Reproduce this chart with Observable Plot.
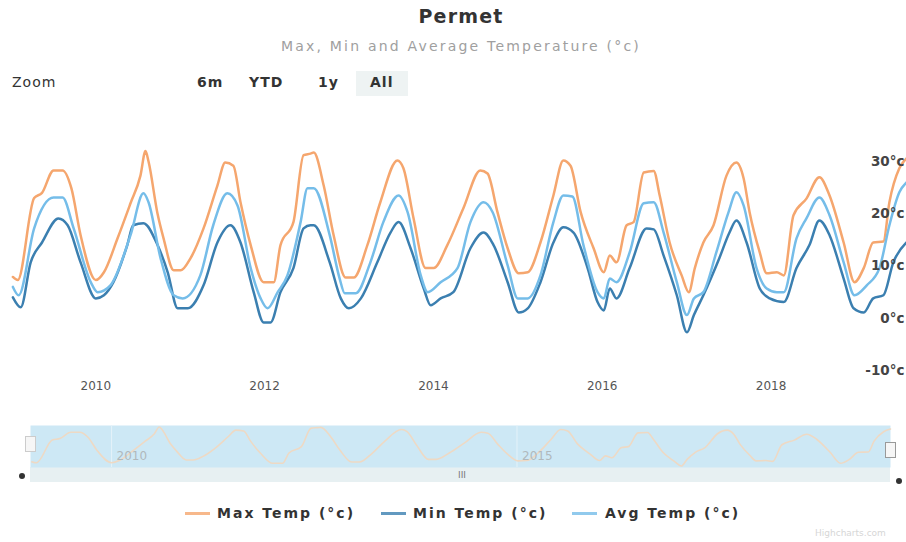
<!DOCTYPE html>
<html><head><meta charset="utf-8">
<script src="https://cdn.jsdelivr.net/npm/d3@7"></script>
<script src="https://cdn.jsdelivr.net/npm/@observablehq/plot@0.6"></script>
<style>
body{margin:0;background:#fff;font-family:"DejaVu Sans",sans-serif;}
#wrap{position:relative;width:906px;height:542px;overflow:hidden;background:#fff;}
.abs{position:absolute;white-space:nowrap;}
#title{left:0;width:906px;top:5px;text-align:center;font-size:19px;font-weight:bold;color:#333;letter-spacing:1.2px;padding-left:16px;box-sizing:border-box;}
#subtitle{left:0;width:906px;top:38px;text-align:center;font-size:14px;color:#a0a0a0;letter-spacing:2.2px;padding-left:16px;box-sizing:border-box;}
.zb{top:73px;font-size:14px;color:#333;letter-spacing:1px;line-height:18px;}
.leg{top:504px;font-size:14px;font-weight:bold;color:#333;letter-spacing:2px;line-height:18px;}
.sym{height:3px;width:25px;top:512px;}
svg{position:absolute;}
</style></head><body><div id="wrap"></div>
<script>
// Series names, colours and tick labels
const seriesNames = ["Max Temp (°c)", "Min Temp (°c)", "Avg Temp (°c)"];
const seriesColors = ["#f5a66e", "#3b7fb0", "#75bde9"];
const yTickValues = [-10, 0, 10, 20, 30];
const zoomButtons = ["Zoom", "6m", "YTD", "1y", "All"];

// Values: [date, °C]
const maxSeries = [
 ["2009-01-07",7.9],["2009-01-28",7.3],["2009-04-09",23],["2009-05-13",24],["2009-07-02",28.3],["2009-08-10",28.3],
 ["2009-09-17",24.9],["2009-10-27",15.9],["2010-01-01",7.3],["2010-02-05",8.8],["2010-04-05",15.3],["2010-05-31",22],
 ["2010-07-13",27.3],["2010-08-04",32],["2010-08-17",30],["2010-09-25",20],["2010-10-21",15.3],["2010-12-04",9.2],
 ["2011-01-04",9.2],["2011-02-15",11.5],["2011-04-12",17.2],["2011-06-11",25.4],["2011-07-15",29.8],["2011-08-19",29.2],
 ["2011-09-19",22.2],["2011-11-02",14],["2011-12-28",6.9],["2012-02-10",6.9],["2012-03-10",14],["2012-05-05",18.4],
 ["2012-06-18",31.2],["2012-07-18",31.5],["2012-08-01",31.7],["2012-09-13",25.4],["2012-10-26",15.9],["2012-12-17",7.8],
 ["2013-01-21",7.8],["2013-03-21",14],["2013-05-16",22.2],["2013-07-29",30.2],["2013-08-24",28.7],["2013-10-07",19.1],
 ["2013-11-28",9.6],["2014-01-02",9.6],["2014-03-02",14],["2014-05-10",21],["2014-07-23",28.3],["2014-08-23",27.7],
 ["2014-10-05",20.3],["2014-11-18",13.4],["2015-01-05",8.6],["2015-02-13",8.8],["2015-04-09",14.5],["2015-06-04",23.5],
 ["2015-07-17",30.2],["2015-08-17",29.2],["2015-09-30",20.3],["2015-11-25",13.4],["2016-01-08",8.8],["2016-02-03",12],
 ["2016-03-03",10.7],["2016-04-16",17.8],["2016-05-16",18.4],["2016-06-29",27.9],["2016-08-11",28.2],["2016-09-06",23.5],
 ["2016-10-19",14.5],["2016-12-10",8.2],["2017-01-10",5],["2017-02-05",9.6],["2017-03-14",14.5],["2017-04-27",17.8],
 ["2017-06-22",27.3],["2017-08-04",29.8],["2017-09-04",26.8],["2017-09-30",20.3],["2017-11-13",12.6],["2017-12-13",8.6],
 ["2018-01-26",8.8],["2018-02-25",8.2],["2018-04-08",19.7],["2018-06-03",22.9],["2018-07-29",27],["2018-09-11",23.5],
 ["2018-11-11",14.5],["2018-12-28",6.9],["2019-02-06",9.6],["2019-03-19",14.5],["2019-05-02",14.7],["2019-05-28",22.2],
 ["2019-07-10",28.7],["2019-08-10",30.6]
];
const minSeries = [
 ["2009-01-07",4],["2009-02-10",2.1],["2009-03-25",10.7],["2009-05-13",14.5],["2009-07-23",19.1],["2009-09-01",17.8],
 ["2009-10-27",10.7],["2010-01-01",3.8],["2010-02-05",4.4],["2010-03-18",6.9],["2010-05-17",14],["2010-06-12",17.8],
 ["2010-07-26",18.2],["2010-09-25",14],["2010-11-08",8.8],["2010-12-21",1.9],["2011-02-03",1.9],["2011-04-12",6.3],
 ["2011-06-11",14.5],["2011-08-06",17.8],["2011-09-19",14.5],["2011-11-15",5],["2011-12-28",-0.8],["2012-01-27",-0.8],
 ["2012-03-10",5],["2012-05-05",9.6],["2012-06-18",17.2],["2012-07-18",17.8],["2012-08-01",17.8],["2012-10-09",10.7],
 ["2012-11-26",3.8],["2012-12-31",1.9],["2013-02-21",3.8],["2013-05-03",10.7],["2013-06-29",16.4],["2013-08-03",18.4],
 ["2013-09-24",13.4],["2013-11-20",5.7],["2013-12-20",2.5],["2014-02-01",3.8],["2014-03-28",5],["2014-06-10",13.4],
 ["2014-08-06",16.4],["2014-09-18",14],["2014-11-18",6.9],["2015-01-05",1.1],["2015-02-13",1.9],["2015-04-09",6.9],
 ["2015-06-04",14.5],["2015-07-17",17.4],["2015-08-30",16.4],["2015-10-30",9.6],["2015-12-12",3.1],["2016-01-08",1.5],
 ["2016-02-03",5.7],["2016-03-03",3.8],["2016-04-29",9.6],["2016-07-11",17.2],["2016-08-11",17],["2016-09-23",12],
 ["2016-11-19",4.4],["2017-01-02",-2.7],["2017-02-01",0.6],["2017-03-14",4.4],["2017-05-22",11.5],["2017-07-05",16.4],
 ["2017-08-04",18.7],["2017-09-17",14.5],["2017-11-13",5.7],["2017-12-26",3.8],["2018-02-25",3.1],["2018-04-21",9.6],
 ["2018-06-16",14],["2018-07-29",18.7],["2018-09-11",15.9],["2018-11-11",7.6],["2018-12-24",1.9],["2019-02-06",1.1],
 ["2019-03-19",3.8],["2019-05-02",4.4],["2019-06-14",10.7],["2019-08-10",14.5]
];
const avgSeries = [
 ["2009-01-07",6],["2009-02-01",4.4],["2009-04-09",17.2],["2009-07-02",23.1],["2009-08-10",23.1],["2009-09-27",17.2],
 ["2009-12-10",6.9],["2010-01-09",5],["2010-03-05",6.3],["2010-05-31",15.9],["2010-07-26",23.9],["2010-08-17",22.2],
 ["2010-10-08",11.5],["2010-12-04",4.4],["2011-01-12",3.8],["2011-03-29",8.2],["2011-05-24",17.8],["2011-07-24",23.9],
 ["2011-09-06",21.6],["2011-11-02",9.6],["2011-12-15",3.8],["2012-01-14",1.9],["2012-02-27",5],["2012-04-09",8.2],
 ["2012-06-05",18.4],["2012-07-05",24.9],["2012-08-01",24.9],["2012-10-09",15.9],["2012-11-21",7.6],["2012-12-13",4.8],
 ["2013-01-30",4.8],["2013-04-03",10.7],["2013-05-29",18.4],["2013-08-03",23.5],["2013-09-11",20.3],["2013-11-07",8.2],
 ["2013-12-07",5],["2014-02-01",6.9],["2014-04-15",9.6],["2014-06-10",18.4],["2014-08-06",22.2],["2014-09-14",20.3],
 ["2014-11-18",10.1],["2015-01-01",3.8],["2015-02-13",3.8],["2015-04-09",8.2],["2015-06-04",18.4],["2015-07-17",23.5],
 ["2015-08-25",23.3],["2015-10-12",14],["2015-12-12",5],["2016-01-08",3.8],["2016-02-03",7.6],["2016-03-03",6.9],
 ["2016-04-29",12.6],["2016-06-29",22],["2016-08-11",22.2],["2016-09-23",16.4],["2016-11-19",6.9],["2017-01-02",0.6],
 ["2017-02-01",3.8],["2017-03-14",5],["2017-05-09",12.6],["2017-07-01",20.3],["2017-08-04",24.1],["2017-09-04",21.6],
 ["2017-10-30",9.6],["2017-12-13",5.7],["2018-01-26",5],["2018-02-25",5],["2018-04-21",15.3],["2018-06-03",19.1],
 ["2018-07-29",23.1],["2018-09-11",19.7],["2018-11-11",10.7],["2018-12-28",4.4],["2019-02-19",6.3],["2019-04-15",9.6],
 ["2019-05-28",17.8],["2019-07-10",24.1],["2019-08-10",26]
];
const xDomain = ["2009-01-01", "2019-08-10"];
const mainTicks = ["2010-01-01","2012-01-01","2014-01-01","2016-01-01","2018-01-01"];
const navTicks = ["2010-01-01","2015-01-01"];

const parse = d3.utcParse("%Y-%m-%d");
const rows = [];
[maxSeries, minSeries, avgSeries].forEach((s, i) => {
  s.forEach(([d, v]) => rows.push({series: seriesNames[i], date: parse(d), value: v}));
});
const maxRows = rows.filter(r => r.series === seriesNames[0]);
const dom = xDomain.map(parse);
const fmtY = d3.utcFormat("%Y");

const wrap = document.getElementById("wrap");
function add(html){ wrap.insertAdjacentHTML("beforeend", html); }

// main chart
const main = Plot.plot({
  width: 906, height: 400,
  marginLeft: 11, marginRight: 0, marginTop: 161, marginBottom: 30,
  x: {type: "utc", domain: dom},
  y: {domain: [-10, 30]},
  color: {domain: seriesNames, range: seriesColors},
  style: {fontFamily: "DejaVu Sans", background: "transparent", overflow: "hidden"},
  marks: [
    Plot.line(rows, {x: "date", y: "value", z: "series", stroke: "series", strokeWidth: 2.5, strokeLinejoin: "round", curve: "monotone-x"}),
    Plot.axisX({ticks: mainTicks.map(parse), tickFormat: fmtY, tickSize: 0, tickPadding: 11, fontSize: 12, fill: "#555", letterSpacing: 2, label: null}),
    Plot.axisY({anchor: "right", ticks: yTickValues, tickFormat: d => d + "°c", tickSize: 0, tickPadding: -2, textAnchor: "end", fontSize: 13.5, fontWeight: "bold", fill: "#444", label: null})
  ]
});
main.style.left = "0px"; main.style.top = "0px";
wrap.appendChild(main);

// titles and range selector
add(`<div id="title" class="abs">Permet</div>`);
add(`<div id="subtitle" class="abs">Max, Min and Average Temperature (°c)</div>`);
add(`<div class="abs" style="left:356px;top:71px;width:52px;height:25px;background:#eef3f3;"></div>`);
const zx = [12, 197, 249, 318, 370];
zoomButtons.forEach((b, i) => add(`<div class="abs zb" style="left:${zx[i]}px;font-weight:${i ? "bold" : "normal"}">${b}</div>`));

// navigator
add(`<div class="abs" style="left:30px;top:467px;width:860px;height:15px;background:#e7f0f2;"></div>`);
const nav = Plot.plot({
  width: 906, height: 70,
  marginLeft: 30, marginRight: 16, marginTop: 10, marginBottom: 18,
  x: {type: "utc", domain: dom, axis: null},
  y: {domain: [4, 33], axis: null},
  style: {fontFamily: "DejaVu Sans", background: "transparent"},
  marks: [
    Plot.frame({fill: "#cde8f5", stroke: null}),
    Plot.ruleX(navTicks.map(parse), {stroke: "#e4f2f9", strokeWidth: 1}),
    Plot.line(maxRows, {x: "date", y: "value", stroke: "#eed9c4", strokeWidth: 1.6, curve: "monotone-x"}),
    Plot.text(navTicks.map(parse), {x: d => d, text: d => fmtY(d), frameAnchor: "bottom", dy: -8, dx: 5, textAnchor: "start", fill: "#b0b8bc", fontSize: 12, letterSpacing: 1.5})
  ]
});
nav.style.left = "0px"; nav.style.top = "415px";
wrap.appendChild(nav);
add(`<div class="abs" style="left:25px;top:436px;width:9px;height:14px;background:#f6f6f6;border:1px solid #ccc;"></div>`);
add(`<div class="abs" style="left:885px;top:442px;width:9px;height:14px;background:#f6f6f6;border:1px solid #999;"></div>`);
add(`<div class="abs" style="left:19px;top:473px;width:6px;height:6px;border-radius:3px;background:#333;"></div>`);
add(`<div class="abs" style="left:896px;top:478px;width:6px;height:6px;border-radius:3px;background:#333;"></div>`);
add(`<div class="abs" style="left:458px;top:470px;font-size:9px;color:#777;letter-spacing:0px;">III</div>`);

// legend
const symX = [185, 381, 572], txtX = [217, 413, 605];
seriesNames.forEach((n, i) => {
  add(`<div class="abs sym" style="left:${symX[i]}px;background:${seriesColors[i]};opacity:0.8"></div>`);
  add(`<div class="abs leg" style="left:${txtX[i]}px">${n}</div>`);
});
add(`<div class="abs" style="left:815px;top:528px;font-size:9px;color:#d6d6d6;">Highcharts.com</div>`);
</script></body></html>
